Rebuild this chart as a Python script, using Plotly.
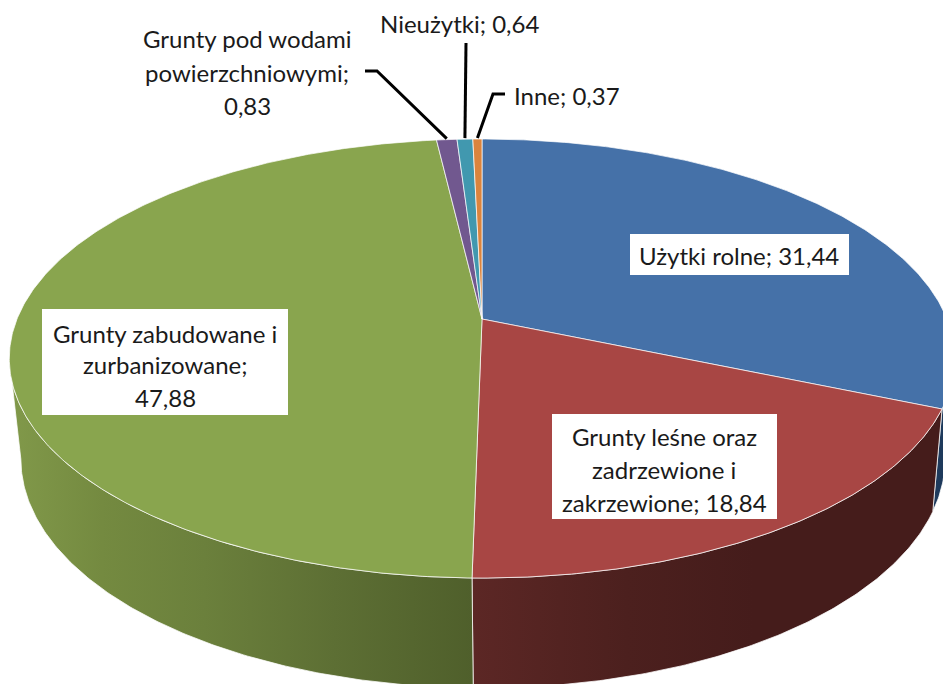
import numpy as np
import plotly.graph_objects as go

# ---- data ----
categories = ["Użytki rolne", "Grunty leśne oraz zadrzewione i zakrzewione",
              "Grunty zabudowane i zurbanizowane",
              "Grunty pod wodami powierzchniowymi", "Nieużytki", "Inne"]
values = [31.44, 18.84, 47.88, 0.83, 0.64, 0.37]
value_labels = ["31,44", "18,84", "47,88", "0,83", "0,64", "0,37"]
top_colors = ["#4571A8", "#A84644", "#89A54E", "#71588F", "#4198AF", "#DB843D"]

# ---- 3D pie projection (perspective-tilted disc, in page pixels) ----
K = 0.18
TOP = dict(cx=482.0, y0=319.0, a=465.0, b=212.4)
BOT = dict(cx=483.0, y0=417.8, a=454.6, b=221.6)
LEFT_TANGENT = 360 - np.degrees(np.arccos(-K))
RIGHT_TANGENT = np.degrees(np.arccos(-K))


def project(deg, g):
    t = np.radians(deg)
    u, v = np.sin(t), np.cos(t)
    d = 1 + K * v
    return g["cx"] + g["a"] * u / d, g["y0"] - g["b"] * v / d


def arc(d0, d1, g):
    n = max(int(abs(d1 - d0) * 2), 2)
    return project(np.linspace(d0, d1, n), g)


shares = np.array(values) / sum(values) * 360
ends = np.cumsum(shares)
starts = ends - shares

fig = go.Figure()


def wall(d0, d1, stops, line="rgba(255,255,255,0.75)"):
    xt, yt = arc(d0, d1, TOP)
    xb, yb = arc(d1, d0, BOT)
    xs = np.concatenate([xt, xb, xt[:1]])
    ys = np.concatenate([yt, yb, yt[:1]])
    fig.add_trace(go.Scatter(x=xs, y=ys, mode="lines", fill="toself",
                             line=dict(color=line, width=1),
                             fillgradient=dict(type="horizontal", colorscale=stops),
                             hoverinfo="skip", showlegend=False))


# side walls: only the front of the disc is visible
wall(RIGHT_TANGENT, ends[0], [[0, "#1E3A5C"], [1, "#1E3A5C"]])
wall(ends[0], ends[1], [[0, "#5C2725"], [0.33, "#4C201E"], [0.6, "#451C1B"], [1, "#451C1B"]])
wall(starts[2], LEFT_TANGENT, [[0, "#81994A"], [0.2, "#748A40"], [0.42, "#6B803C"],
                               [0.7, "#5D6F34"], [1, "#4F5F2B"]])

# top face
for s, e, c, name in zip(starts, ends, top_colors, categories):
    xa, ya = arc(s, e, TOP)
    xs = np.concatenate([[TOP["cx"]], xa, [TOP["cx"]]])
    ys = np.concatenate([[TOP["y0"]], ya, [TOP["y0"]]])
    fig.add_trace(go.Scatter(x=xs, y=ys, mode="lines", fill="toself", fillcolor=c,
                             line=dict(color="rgba(255,255,255,0.7)", width=1),
                             name=name, hoverinfo="skip", showlegend=False))

# leader lines for the three small slices
mids = (starts + ends) / 2
elbows = {3: [(365, 71), (377, 71)], 4: [(466, 43)], 5: [(505, 94), (493, 94)]}
for i, pts in elbows.items():
    rx, ry = project(mids[i], TOP)
    fig.add_trace(go.Scatter(x=[p[0] for p in pts] + [float(rx)],
                             y=[p[1] for p in pts] + [float(ry) - 1],
                             mode="lines", line=dict(color="#000000", width=3),
                             hoverinfo="skip", showlegend=False))

# data labels: (text lines, centre x, line centre ys, white box or None)
label_specs = [
    (["Użytki rolne; " + value_labels[0]], 739, [255], (630, 234, 849, 275)),
    (["Grunty leśne oraz", "zadrzewione i", "zakrzewione; " + value_labels[1]], 664,
     [436, 469, 502], (552, 414, 777, 519)),
    (["Grunty zabudowane i", "zurbanizowane;", value_labels[2]], 165,
     [333, 364, 397], (42, 309, 288, 415)),
    (["Grunty pod wodami", "powierzchniowymi;", value_labels[3]], 247, [38, 72, 105], None),
    (["Nieużytki; " + value_labels[4]], 459, [23], None),
    (["Inne; " + value_labels[5]], 567, [95], None),
]
shapes, annotations = [], []
for lines, cx, ys, box in label_specs:
    if box:
        shapes.append(dict(type="rect", xref="x", yref="y", x0=box[0], y0=box[1],
                           x1=box[2], y1=box[3], fillcolor="#FFFFFF",
                           line=dict(width=0), layer="above"))
    for text, y in zip(lines, ys):
        annotations.append(dict(x=cx, y=y, xref="x", yref="y", text=text, showarrow=False,
                                xanchor="center", yanchor="middle",
                                font=dict(family="Lato", size=24, color="#1A1A1A")))

fig.update_layout(
    width=943, height=684, margin=dict(l=0, r=0, t=0, b=0),
    paper_bgcolor="#FFFFFF", plot_bgcolor="#FFFFFF",
    xaxis=dict(range=[0, 943], visible=False, fixedrange=True),
    yaxis=dict(range=[684, 0], visible=False, fixedrange=True),
    shapes=shapes, annotations=annotations, hovermode=False,
)
fig.write_html("out.html", config={"displayModeBar": False},
               post_script="document.body.style.margin='0';")
